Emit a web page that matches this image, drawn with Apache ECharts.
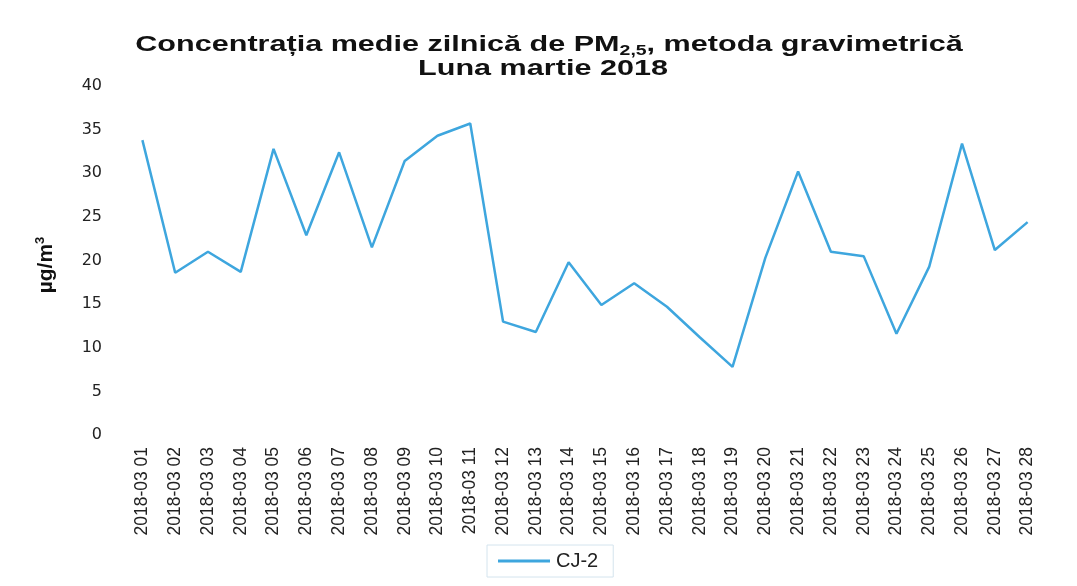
<!DOCTYPE html>
<html>
<head>
<meta charset="utf-8">
<script src="https://cdn.jsdelivr.net/npm/echarts@6/dist/echarts.min.js"></script>
<style>html,body{margin:0;padding:0;background:#fff}#c{width:1077px;height:586px}</style>
</head>
<body>
<div id="c"></div>
<script>
const categories = ['2018-03 01','2018-03 02','2018-03 03','2018-03 04','2018-03 05','2018-03 06','2018-03 07','2018-03 08','2018-03 09','2018-03 10','2018-03 11','2018-03 12','2018-03 13','2018-03 14','2018-03 15','2018-03 16','2018-03 17','2018-03 18','2018-03 19','2018-03 20','2018-03 21','2018-03 22','2018-03 23','2018-03 24','2018-03 25','2018-03 26','2018-03 27','2018-03 28'];
const cj2 = [33.8,18.6,21.0,18.7,32.8,22.9,32.4,21.5,31.4,34.3,35.7,13.0,11.8,19.8,14.9,17.4,14.7,11.2,7.8,20.3,30.2,21.0,20.5,11.6,19.3,33.4,21.2,24.4];
const seriesName = 'CJ-2';
const yTicks = {min:0, max:40, interval:5};
const titleLine1 = ['Concentrația medie zilnică de PM', '2,5', ', metoda gravimetrică'];
const titleLine2 = 'Luna martie 2018';
const yName = ['µg/m', '3'];

const FONT = 'Liberation Sans, Arial, sans-serif';
const chart = echarts.init(document.getElementById('c'));
chart.setOption({
  backgroundColor:'#ffffff',
  animation:false,
  graphic:[
    {type:'text', x:549, y:45, scaleX:1.39, z:10,
     style:{text:'{a|'+titleLine1[0]+'}{s|'+titleLine1[1]+'}{a|'+titleLine1[2]+'}', align:'center', verticalAlign:'middle',
       rich:{
         a:{fontFamily:FONT, fontWeight:'bold', fontSize:22, fill:'#111', lineHeight:26},
         s:{fontFamily:FONT, fontWeight:'bold', fontSize:14, fill:'#111', lineHeight:14, verticalAlign:'bottom'}
       }}},
    {type:'text', x:543, y:69, scaleX:1.39, z:10,
     style:{text:titleLine2, align:'center', verticalAlign:'middle', fontFamily:FONT, fontWeight:'bold', fontSize:22, fill:'#111'}},
    {type:'text', x:46, y:265, rotation:Math.PI/2, z:10,
     style:{text:'{a|'+yName[0]+'}{s|'+yName[1]+'}', align:'center', verticalAlign:'middle',
       rich:{
         a:{fontFamily:FONT, fontWeight:'bold', fontSize:21, fill:'#111', lineHeight:24},
         s:{fontFamily:FONT, fontWeight:'bold', fontSize:13, fill:'#111', lineHeight:13, verticalAlign:'top'}
       }}}
  ],
  legend:{
    left:487, top:545,
    data:[seriesName],
    icon:'path://M0,0 L52,0 L52,3 L0,3 Z',
    itemWidth:52, itemHeight:3, itemGap:0,
    padding:[6,15,6,11],
    borderColor:'#d4e4ee', borderWidth:1,
    textStyle:{fontFamily:FONT, fontSize:20, color:'#222', padding:[0,0,0,1]}
  },
  grid:{left:126, right:33, top:86, bottom:151},
  xAxis:{
    type:'category', data:categories, boundaryGap:true,
    axisLine:{show:false}, axisTick:{show:false},
    axisLabel:{rotate:90, interval:0, margin:12, fontFamily:FONT, fontSize:17.5, color:'#222'}
  },
  yAxis:{
    type:'value', min:yTicks.min, max:yTicks.max, interval:yTicks.interval,
    axisLine:{show:false}, axisTick:{show:false},
    splitLine:{show:false},
    axisLabel:{margin:24, fontFamily:'DejaVu Sans, sans-serif', fontSize:16, color:'#222'}
  },
  series:[{
    name:seriesName, type:'line', data:cj2,
    symbol:'none', lineStyle:{color:'#3ea6de', width:2.5}, itemStyle:{color:'#3ea6de'}
  }]
});
</script>
</body>
</html>
